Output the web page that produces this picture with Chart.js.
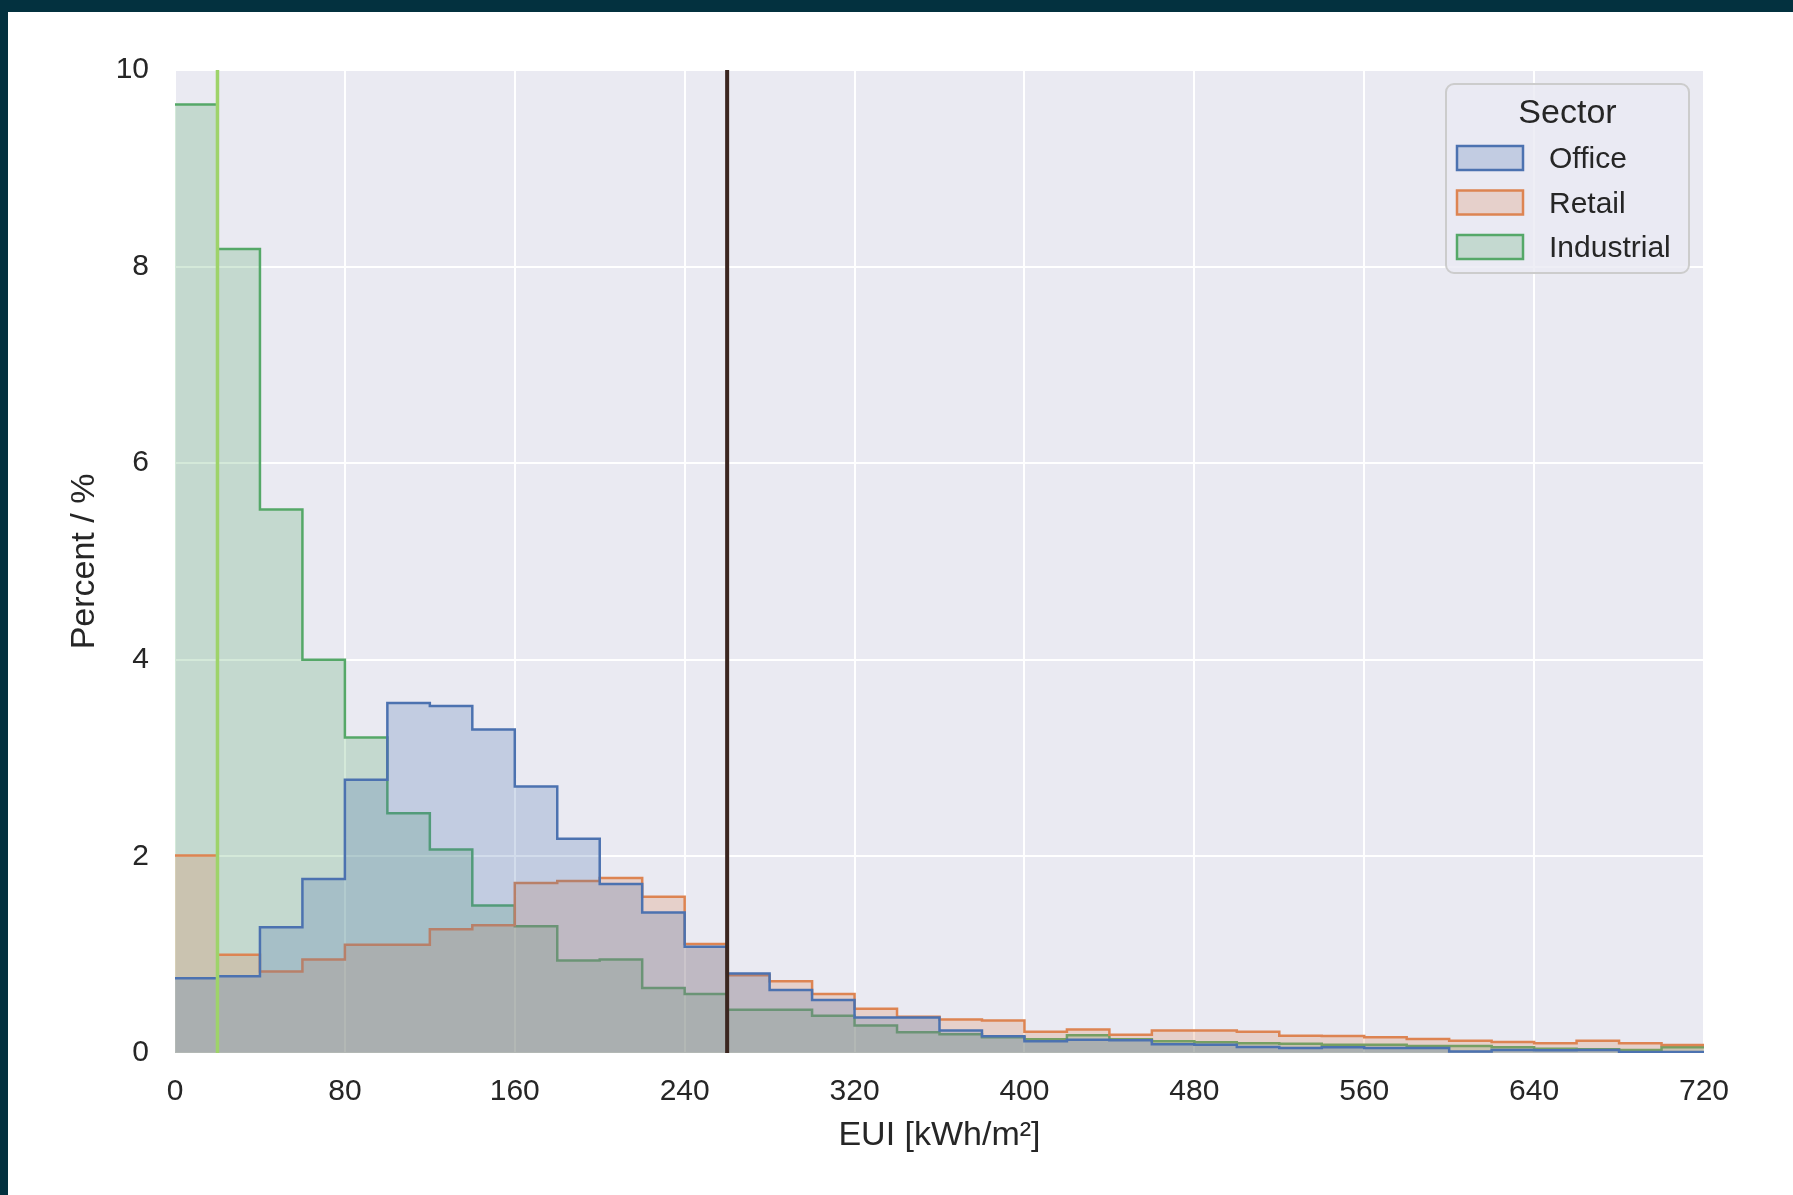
<!DOCTYPE html>
<html>
<head>
<meta charset="utf-8">
<title>EUI distribution by sector</title>
<script src="https://cdn.jsdelivr.net/npm/chart.js@4.4.1/dist/chart.umd.min.js"></script>
<style>
  html, body { margin: 0; padding: 0; background: #03313f; }
  body { width: 1793px; height: 1195px; overflow: hidden; position: relative; }
  #wrap { position: absolute; left: 8px; top: 12px; width: 1785px; height: 1183px; background: #ffffff; }
</style>
</head>
<body>
<div id="wrap"><canvas id="euiChart" width="1785" height="1183"></canvas></div>
<script>
// bin edges of the histogram (kWh/m2), 20 wide
const binEdges = [0, 20, 40, 60, 80, 100, 120, 140, 160, 180, 200, 220, 240, 260, 280, 300, 320, 340, 360,
  380, 400, 420, 440, 460, 480, 500, 520, 540, 560, 580, 600, 620, 640, 660, 680, 700, 720];

const sectors = ["Office", "Retail", "Industrial"];

// percent of buildings per bin
const officePct = [0.76, 0.78, 1.28, 1.77, 2.78, 3.56, 3.53, 3.29, 2.71, 2.18, 1.72, 1.43, 1.08, 0.81,
  0.64, 0.54, 0.36, 0.36, 0.23, 0.17, 0.12, 0.135, 0.13, 0.09, 0.085, 0.06, 0.05, 0.058, 0.05, 0.05,
  0.015, 0.03, 0.027, 0.03, 0.01, 0.01];
const retailPct = [2.01, 1.00, 0.83, 0.95, 1.10, 1.10, 1.26, 1.30, 1.73, 1.75, 1.78, 1.59, 1.11, 0.79,
  0.73, 0.60, 0.45, 0.37, 0.34, 0.33, 0.217, 0.24, 0.186, 0.23, 0.23, 0.215, 0.175, 0.173, 0.16, 0.142,
  0.125, 0.112, 0.10, 0.125, 0.098, 0.081];
const industrialPct = [9.65, 8.18, 5.53, 4.00, 3.21, 2.44, 2.07, 1.50, 1.29, 0.94, 0.95, 0.66, 0.60, 0.44,
  0.44, 0.38, 0.28, 0.21, 0.19, 0.16, 0.14, 0.18, 0.14, 0.12, 0.11, 0.10, 0.095, 0.085, 0.085, 0.071,
  0.071, 0.058, 0.044, 0.037, 0.03, 0.058];

// vertical marker lines (EUI value)
const markerValues = [20, 260];
const markerColors = ["#9ed36a", "#3b2620"];

const yRange = [0, 10];

const lineColors = ["#4c72b0", "#dd8452", "#55a868"];
const fillColors = ["rgba(76,114,176,0.25)", "rgba(221,132,82,0.25)", "rgba(85,168,104,0.25)"];

const FONT = "'Liberation Sans', Arial, sans-serif";
Chart.defaults.font.family = FONT;
Chart.defaults.color = "#262626";

// each bin value is held from its left edge to its right edge
function toSteps(values) {
  const pts = [{ x: binEdges[0], y: values[0] }];
  values.forEach((v, i) => pts.push({ x: binEdges[i + 1], y: v }));
  return pts;
}

const histSets = [officePct, retailPct, industrialPct].map((vals, i) => ({
  label: sectors[i],
  data: toSteps(vals),
  stepped: "after",
  borderColor: lineColors[i],
  backgroundColor: fillColors[i],
  borderWidth: 2.5,
  pointRadius: 0,
  fill: "origin",
  order: 1 + i
}));

const markerSets = markerValues.map((v, i) => ({
  label: "marker" + i,
  data: [{ x: v, y: yRange[0] }, { x: v, y: yRange[1] }],
  borderColor: markerColors[i],
  borderWidth: i === 0 ? 3.5 : 4,
  pointRadius: 0,
  fill: false,
  order: 0
}));

// grey plot background like seaborn darkgrid
const plotBg = {
  id: "plotBg",
  beforeDraw(chart) {
    const { ctx, chartArea: a } = chart;
    ctx.save();
    ctx.fillStyle = "#eaeaf2";
    ctx.fillRect(a.left, a.top, a.right - a.left, a.bottom - a.top);
    ctx.restore();
  }
};

// boxed legend with title, upper right inside the axes
const legendBox = {
  id: "legendBox",
  afterDraw(chart) {
    const { ctx, chartArea: a } = chart;
    const x = a.right - 258, y = a.top + 14, w = 243, h = 189;
    ctx.save();
    ctx.beginPath();
    ctx.roundRect(x, y, w, h, 8);
    ctx.fillStyle = "rgba(234,234,242,0.8)";
    ctx.fill();
    ctx.strokeStyle = "#cccccc";
    ctx.lineWidth = 2;
    ctx.stroke();

    ctx.fillStyle = "#262626";
    ctx.textBaseline = "middle";
    ctx.textAlign = "center";
    ctx.font = "34px " + FONT;
    ctx.fillText("Sector", x + w / 2, y + 30);

    ctx.textAlign = "left";
    ctx.font = "30px " + FONT;
    sectors.forEach((name, i) => {
      const cy = y + 74 + i * 44.5;
      ctx.fillStyle = fillColors[i];
      ctx.fillRect(x + 11, cy - 12, 66, 24);
      ctx.strokeStyle = lineColors[i];
      ctx.lineWidth = 2.5;
      ctx.strokeRect(x + 11, cy - 12, 66, 24);
      ctx.fillStyle = "#262626";
      ctx.fillText(name, x + 103, cy + 2);
    });
    ctx.restore();
  }
};

new Chart(document.getElementById("euiChart"), {
  type: "line",
  data: { datasets: [...markerSets, ...histSets] },
  options: {
    responsive: false,
    animation: false,
    devicePixelRatio: 1,
    layout: { padding: { left: 0, top: 58, right: 89, bottom: 39 } },
    plugins: {
      legend: { display: false },
      tooltip: { enabled: false }
    },
    elements: { line: { tension: 0 } },
    scales: {
      x: {
        type: "linear",
        min: binEdges[0],
        max: binEdges[binEdges.length - 1],
        ticks: { stepSize: 80, padding: 21, font: { size: 30 }, color: "#262626" },
        grid: { color: "#ffffff", lineWidth: 2, drawTicks: false },
        border: { display: false },
        title: { display: true, text: "EUI [kWh/m²]", font: { size: 34 }, color: "#262626", padding: { top: 0, bottom: 0 } },
        afterFit(scale) { scale.height = 103; }
      },
      y: {
        min: yRange[0],
        max: yRange[1],
        ticks: { stepSize: 2, padding: 26, font: { size: 30 }, color: "#262626" },
        grid: { color: "#ffffff", lineWidth: 2, drawTicks: false },
        border: { display: false },
        title: { display: true, text: "Percent / %", font: { size: 34 }, color: "#262626", padding: { top: 56, bottom: 0 } },
        afterFit(scale) { scale.width = 167; }
      }
    }
  },
  plugins: [plotBg, legendBox]
});
</script>
</body>
</html>
